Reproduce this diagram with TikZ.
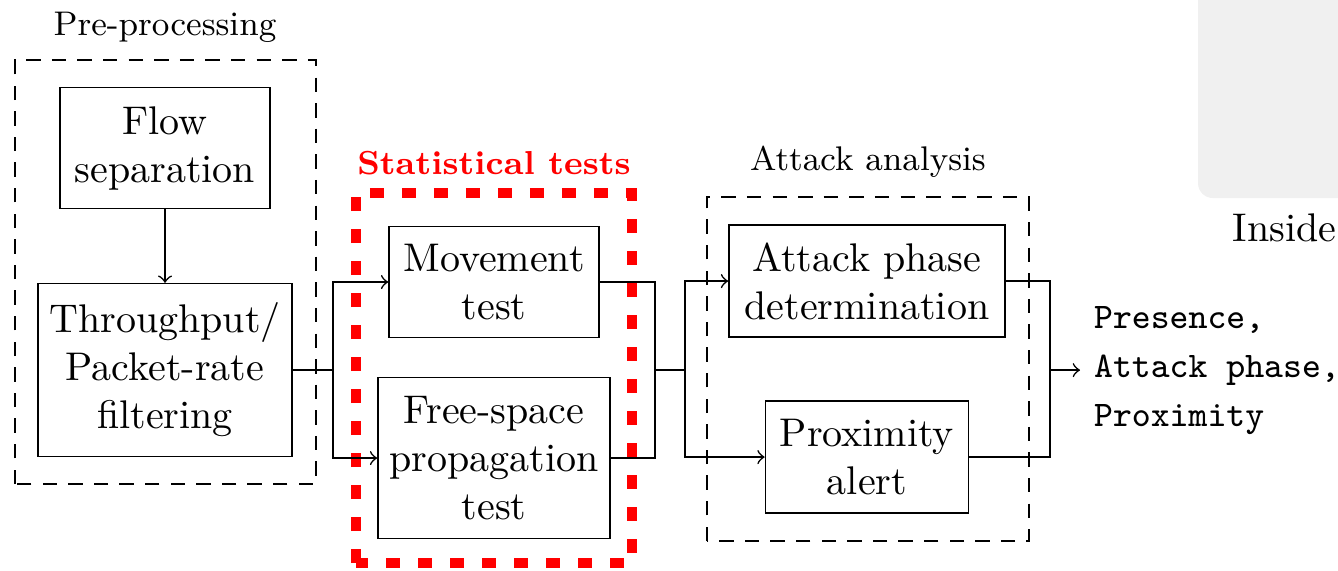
\documentclass[tikz,border=0pt]{standalone}
\usepackage{tikz}
\usetikzlibrary{arrows}
\usetikzlibrary{positioning}
\tikzset{block/.style = {draw, align=center, inner sep=0}}
\tikzset{group/.style = {dash pattern=on 3.6pt off 2.8pt}}
\tikzset{redgroup/.style = {red, line width=2.7pt, dash pattern=on 3.5pt off 4.5pt}}
\tikzset{grouplabel/.style = {font=\fontsize{8.55}{10}\selectfont}}

\begin{document}
\begin{tikzpicture}
  \useasboundingbox (0, 0) rectangle (11.757, 5.009);
  \clip (0, 0) rectangle (11.757, 5.009);
  % corner of the next picture
  \fill [black!6, rounded corners=0.13cm] (10.527, 3.269) rectangle (12.5, 5.5);
  \node [anchor=base west, inner sep=0] (inside) at (10.826, 2.891) {Inside};

  % groups
  \draw [group] (0.132, 0.756) rectangle (2.777, 4.481);
  \node [grouplabel] (prelabel) at (1.450, 4.771) {Pre-processing};
  \draw [redgroup] (3.128, 0.062) rectangle (5.553, 3.313);
  \node [grouplabel, red, font=\fontsize{8.3}{10}\selectfont\bfseries] (statlabel) at (4.341, 3.576) {Statistical tests};
  \draw [group] (6.212, 0.255) rectangle (9.042, 3.278);
  \node [grouplabel] (atklabel) at (7.627, 3.585) {Attack analysis};

  % blocks
  \node [block, minimum width=1.845cm, minimum height=1.063cm] (flow) at (1.450, 3.708) {Flow\\separation};
  \node [block, minimum width=2.232cm, minimum height=1.520cm] (thr) at (1.450, 1.757) {Throughput/\\Packet-rate\\filtering};
  \node [block, minimum width=1.845cm, minimum height=0.975cm] (move) at (4.341, 2.531) {Movement\\test};
  \node [block, minimum width=2.039cm, minimum height=1.415cm] (free) at (4.341, 0.984) {Free-space\\propagation\\test};
  \node [block, minimum width=2.425cm, minimum height=0.984cm] (phase) at (7.618, 2.539) {Attack phase\\determination};
  \node [block, minimum width=1.784cm, minimum height=0.984cm] (prox) at (7.618, 0.993) {Proximity\\alert};
  \node [anchor=west, align=left, font=\ttfamily\fontsize{9}{12.25}\selectfont] (out) at (9.49, 1.757) {Presence,\\Attack phase,\\Proximity};

  \coordinate (split1) at (2.926, 1.757);
  \coordinate (join1) at (5.755, 1.757);
  \coordinate (split2) at (6.019, 1.757);
  \coordinate (join2) at (9.226, 1.757);

  % connectors
  \draw [->] (flow) -- (thr);
  \draw (thr.east) -- (split1);
  \draw [->] (split1) |- (move.west);
  \draw [->] (split1) |- (free.west);
  \draw (move.east) -| (join1);
  \draw (free.east) -| (join1);
  \draw (join1) -- (split2);
  \draw [->] (split2) |- (phase.west);
  \draw [->] (split2) |- (prox.west);
  \draw (phase.east) -| (join2);
  \draw (prox.east) -| (join2);
  \draw [->] (join2) -- (out.west);
\end{tikzpicture}
\end{document}
